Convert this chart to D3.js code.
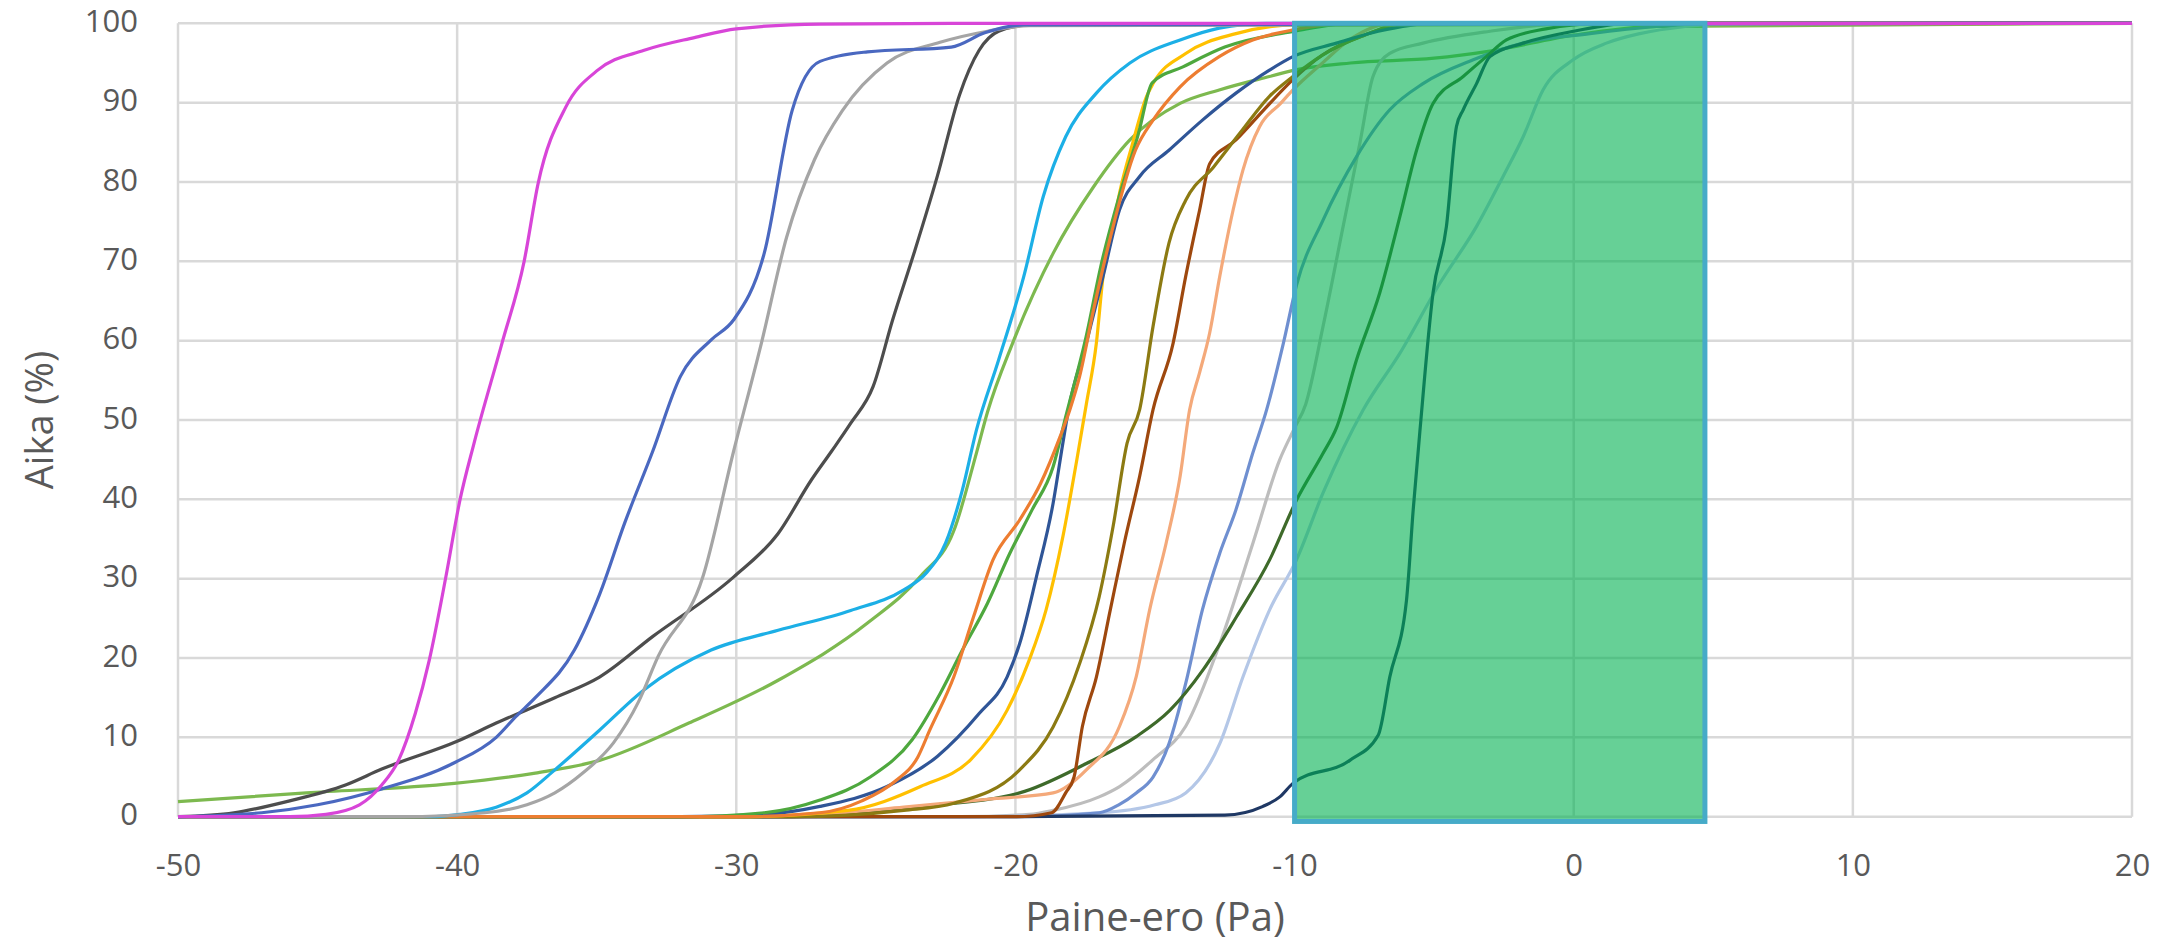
<!DOCTYPE html>
<html><head><meta charset="utf-8">
<script src="https://cdn.jsdelivr.net/npm/d3@7"></script>
<style>html,body{margin:0;background:#fff;} svg{display:block;}</style>
</head><body>
<script>
// ---------- data ----------
const xTicks = [-50, -40, -30, -20, -10, 0, 10, 20];
const yTicks = [0, 10, 20, 30, 40, 50, 60, 70, 80, 90, 100];
const xTitle = "Paine-ero (Pa)";
const yTitle = "Aika (%)";

// highlighted band (x range, y range)
const bandX = [-10, 4.7];
const bandY = [-0.6, 100];

const magentaS = [[-50,0],[-46,0],[-44.7,0.3],[-43.5,1.5],[-42.7,4],[-42.1,7.1],[-41.5,13],[-41,19.7],[-40.4,30.3],[-39.9,39.9],[-39.4,47],[-38.4,59.6],[-37.6,70],[-37.1,79.8],[-36.1,89.5],[-35,94],[-33.3,96.6],[-31.5,98.2],[-30,99.3],[-27,99.9],[-20,100],[20,100]];
const blueS = [[-50,0],[-47,0.5],[-45,1.5],[-42.7,3.5],[-40.1,6.8],[-38.6,10],[-37.9,12.6],[-37.2,15],[-35.8,21],[-34.9,28],[-34,37],[-33,46],[-32,55.5],[-30.9,60.1],[-30.1,62.6],[-29,71],[-28,89],[-27,95.2],[-25.3,96.4],[-22.3,97],[-21.1,98.8],[-19.7,99.8],[20,100]];
const grayS = [[-50,0],[-42,0],[-39,0.5],[-37.5,1.5],[-36.5,3],[-35.5,5.5],[-34.4,9.3],[-33.5,14.5],[-32.8,20.2],[-31.2,30.2],[-30.1,46],[-29.1,59.7],[-28.2,73],[-27.2,82.8],[-26.2,89],[-24.6,95],[-22.7,97.6],[-21,99],[-19.5,99.7],[20,100]];
const charcoalS = [[-50,0],[-48,0.5],[-46,2],[-44,4],[-42.7,6],[-40,9.5],[-38.6,11.8],[-36.5,15],[-34.9,17.6],[-33,22.7],[-30.1,30.2],[-28.5,35.7],[-27.3,42.5],[-26.6,46],[-25.9,49.6],[-25.1,54.2],[-24.4,62.6],[-23.6,71.4],[-22.8,80.7],[-22,91],[-21.3,96.6],[-20.6,99],[-19.5,99.8],[20,100]];
const cyanS = [[-50,0],[-41,0],[-39.9,0.3],[-38.6,1.2],[-37.5,3],[-36.5,5.9],[-34.9,10.9],[-33.3,16],[-30.9,21],[-28.5,23.5],[-25.9,26],[-24,28.6],[-23.2,30.7],[-22.5,34.5],[-21.9,41.2],[-21.4,48.7],[-20.6,57.6],[-19.7,68.1],[-19,78.2],[-18.2,85.7],[-17.1,91.2],[-15.9,95],[-14.1,97.9],[-12.7,99.4],[-11,100],[20,100]];
const lightGreenS = [[-50,1.9],[-45.4,3],[-40.1,4.2],[-37.2,5.5],[-34.9,7.1],[-31.7,11.8],[-28.5,17.2],[-25.3,24.4],[-23.4,30.3],[-22.2,36.1],[-21.4,45.8],[-21,51],[-20.1,59.7],[-18.65,71],[-17.2,79.4],[-15.9,85.3],[-14.1,89.9],[-12.7,91.6],[-10.9,93.3],[-10,94.1],[-8,95],[-5,95.6],[-3,96.5],[0,98.5],[3,99.6],[20,100]];
const orangeS = [[-50,0],[-30,0],[-27,0.5],[-25.5,2],[-24.3,4.5],[-23.5,7.5],[-23.07,10.9],[-22.2,17.7],[-21.5,25.2],[-20.8,32.4],[-19.85,37.4],[-19.1,42],[-18.4,47.9],[-18.05,51.3],[-17.7,55.5],[-17.2,63.9],[-16.6,73],[-15.7,84],[-15.07,87.8],[-14.1,92],[-12.7,95.8],[-11.5,97.9],[-10,99.2],[-8,100],[20,100]];
const greenS = [[-50,0],[-32,0],[-29,0.5],[-27,2.1],[-25.2,5],[-23.7,9.7],[-22.7,15.5],[-21.9,21],[-21,26.9],[-20.2,33.2],[-19.4,38.7],[-18.65,44.1],[-18.2,50.4],[-17.5,60],[-16.9,70],[-16.3,78],[-15.6,86],[-15.1,92.5],[-14,94.5],[-12.5,97],[-10,99],[-8,100],[20,100]];
const darkBlueS = [[-50,0],[-32,0],[-29,0.3],[-27,1.3],[-24.6,3.8],[-22.8,7.6],[-21.3,13],[-20.3,17.6],[-19.85,21.8],[-19.25,30.2],[-18.65,39.5],[-18.3,47.1],[-18.1,51.3],[-17.46,59.7],[-16.86,68.1],[-16.27,76.5],[-15.55,80.7],[-14.5,84],[-13.3,87.8],[-12.1,91.2],[-10.9,94.1],[-10.06,95.8],[-8.5,97.5],[-7,99],[-5,100],[20,100]];
const goldS = [[-50,0],[-30,0],[-26,0.8],[-23.4,3.8],[-21.6,7.2],[-20.3,13.4],[-19.5,19.8],[-18.9,26.1],[-18.3,35.3],[-17.8,45],[-17.46,52],[-17.1,59.7],[-16.86,68.1],[-16.5,74.4],[-16.27,78.6],[-15.8,84.9],[-15.3,90.8],[-15.07,92.4],[-13.9,96.2],[-12.1,98.7],[-10,99.8],[20,100]];
const oliveS = [[-50,0],[-28,0],[-24,0.8],[-22.2,1.7],[-19.85,5.9],[-18.65,11.3],[-17.7,19.3],[-17,27.7],[-16.5,36.6],[-16,47.1],[-15.55,51.3],[-15.07,61.8],[-14.5,72.3],[-13.9,77.7],[-12.9,81.9],[-11.97,86.1],[-10.9,90.8],[-10.06,93.3],[-9,96],[-7.5,98.5],[-6,100],[20,100]];
const brownS = [[-50,0],[-20,0],[-18.7,0.5],[-18.2,3],[-17.9,5],[-17.6,11.4],[-17.1,17.6],[-16.6,26.1],[-16.1,34.5],[-15.55,42.9],[-15.07,51.3],[-14.35,59.7],[-13.9,68.1],[-13.4,76.5],[-13.04,82.3],[-12.1,85.3],[-11.1,89.1],[-10.06,92.9],[-9,96],[-7.5,98.5],[-6,100],[20,100]];
const lightOrangeS = [[-50,0],[-30,0],[-27,0.3],[-24,1.2],[-21,2.2],[-18.65,3],[-17.46,5.9],[-16.27,11.4],[-15.67,17.7],[-15.19,26.1],[-14.6,34.5],[-14.1,42.9],[-13.76,51.3],[-13.4,56],[-13.04,61],[-12.68,68.1],[-12.2,76.5],[-11.85,81.5],[-11.25,87],[-10.5,89.9],[-10.06,91.6],[-9,95],[-8,98],[-6.5,100],[20,100]];
const slateS = [[-50,0],[-20,0],[-17,0.5],[-16.3,1.5],[-15.67,3],[-15.07,5],[-14.5,9.2],[-13.9,16.8],[-13.3,26.1],[-12.68,33.2],[-12.1,38.7],[-11.5,45.8],[-11,51.3],[-10.4,59.7],[-9.93,67],[-8.98,75.2],[-7.78,83.2],[-6.59,89.1],[-5.4,92.4],[-3.6,95.4],[-1.81,97.5],[0.58,98.7],[2.96,99.6],[5,100],[20,100]];
const lightGrayS = [[-50,0],[-22,0],[-19.5,0.3],[-18.65,0.8],[-17,2.5],[-16.27,3.8],[-15.07,7.2],[-13.9,11.4],[-12.68,21.8],[-11.49,34.5],[-10.53,45],[-10,49],[-9.6,52],[-8.98,61.8],[-8.26,74.4],[-7.66,84.9],[-7.19,93.3],[-6.59,96.2],[-5.4,97.5],[-3,99],[0,100],[20,100]];
const darkGreenS = [[-50,0],[-28,0],[-23.4,1.3],[-19.85,3],[-17.46,6.7],[-15.67,10.1],[-14.47,13.4],[-13.28,18.5],[-12.08,25.2],[-10.89,32.4],[-9.93,39.9],[-8.98,45.8],[-8.5,49],[-7.78,57.6],[-6.95,66],[-6.23,75.6],[-5.63,84],[-5.04,89.9],[-3.96,93.3],[-3.13,95.8],[-2.41,97.9],[-1,99.3],[1,100],[20,100]];
const paleBlueS = [[-50,0],[-22,0],[-17,0.5],[-15,1.5],[-13.9,3],[-12.68,9.2],[-11.85,17.6],[-10.89,26.1],[-9.93,32.4],[-8.98,40.8],[-7.54,51.3],[-6.23,58.4],[-4.8,67.2],[-3.48,74.4],[-2.53,80.7],[-1.81,85.7],[-1.1,91.6],[-0.02,95.4],[1.17,97.5],[2.37,98.7],[4,99.6],[6,100],[20,100]];
const navyS = [[-50,0],[-20,0],[-12.5,0.2],[-11.13,1.3],[-10.53,2.5],[-10.06,4.2],[-8.02,7.1],[-7,10.3],[-6.59,17.6],[-5.99,27.3],[-5.75,38.7],[-5.5,49],[-5.04,66],[-4.56,74.4],[-4.2,87],[-3.96,89.1],[-3.48,92.4],[-3,95.8],[-1.81,97.5],[0,99],[2,100],[20,100]];

const seriesList = [lightGreenS, lightGrayS, paleBlueS, slateS, darkGreenS, navyS, lightOrangeS, brownS, oliveS, goldS, darkBlueS, greenS, orangeS, cyanS, charcoalS, grayS, blueS, magentaS];
const seriesColors = ["#7DB94F", "#BDBDBD", "#B4C7E7", "#6F8FD0", "#3E6A2A", "#1F3864", "#F4A97A", "#9E480E", "#8C7A12", "#FFC000", "#2F5597", "#4EA83E", "#ED7D31", "#1CAFE6", "#4D4D4D", "#A5A5A5", "#4A68C0", "#D845D8"];

// ---------- layout ----------
const W = 2178, H = 952;
const plot = {left: 178, right: 2132, top: 23.3, bottom: 816.7};

const svg = d3.select("body").append("svg").attr("width", W).attr("height", H);
const x = d3.scaleLinear().domain([-50, 20]).range([plot.left, plot.right]);
const y = d3.scaleLinear().domain([0, 100]).range([plot.bottom, plot.top]);

// gridlines
const grid = svg.append("g");
grid.selectAll(".hg").data(yTicks).join("line")
  .attr("x1", plot.left).attr("x2", plot.right)
  .attr("y1", d => y(d)).attr("y2", d => y(d))
  .attr("stroke", "#D9D9D9").attr("stroke-width", 2.5);
grid.selectAll(".vg").data(xTicks).join("line")
  .attr("y1", plot.top).attr("y2", plot.bottom)
  .attr("x1", d => x(d)).attr("x2", d => x(d))
  .attr("stroke", "#D9D9D9").attr("stroke-width", 2.5);

// axes (labels only)
const font = "'Open Sans', 'Noto Sans', sans-serif";
const fmt = d => String(d);
const xAxis = d3.axisBottom(x).tickValues(xTicks).tickSize(0).tickPadding(0).tickFormat(fmt);
const gx = svg.append("g").attr("transform", `translate(0,${plot.bottom})`).call(xAxis);
gx.select(".domain").remove();
gx.selectAll("text").attr("font-family", font).attr("font-size", 31).attr("fill", "#595959")
  .attr("dy", null).attr("y", 51).attr("dominant-baseline", "middle");

const yAxis = d3.axisLeft(y).tickValues(yTicks).tickSize(0).tickPadding(0).tickFormat(fmt);
const gy = svg.append("g").attr("transform", `translate(${plot.left - 40},0)`).call(yAxis);
gy.select(".domain").remove();
gy.selectAll("text").attr("font-family", font).attr("font-size", 31).attr("fill", "#595959")
  .attr("dy", null).attr("x", 0).attr("dominant-baseline", "middle");

// series
const line = d3.line().x(d => x(d[0])).y(d => y(d[1])).curve(d3.curveMonotoneX);
svg.append("g").selectAll("path").data(seriesList).join("path")
  .attr("d", line)
  .attr("fill", "none")
  .attr("stroke", (d, i) => seriesColors[i])
  .attr("stroke-width", 3.2)
  .attr("stroke-linejoin", "round");

// highlight band
svg.append("rect")
  .attr("x", x(bandX[0])).attr("width", x(bandX[1]) - x(bandX[0]))
  .attr("y", y(bandY[1])).attr("height", y(bandY[0]) - y(bandY[1]))
  .attr("fill", "#00B050").attr("fill-opacity", 0.6)
  .attr("stroke", "#46ABC8").attr("stroke-width", 5);

// titles
svg.append("text").attr("x", (plot.left + plot.right) / 2).attr("y", 920)
  .attr("text-anchor", "middle").attr("dominant-baseline", "middle")
  .attr("font-family", font).attr("font-size", 40).attr("fill", "#595959").text(xTitle);
svg.append("text").attr("transform", `translate(43,${(plot.top + plot.bottom) / 2}) rotate(-90)`)
  .attr("text-anchor", "middle").attr("dominant-baseline", "middle")
  .attr("font-family", font).attr("font-size", 38).attr("fill", "#595959").text(yTitle);
</script>
</body></html>
